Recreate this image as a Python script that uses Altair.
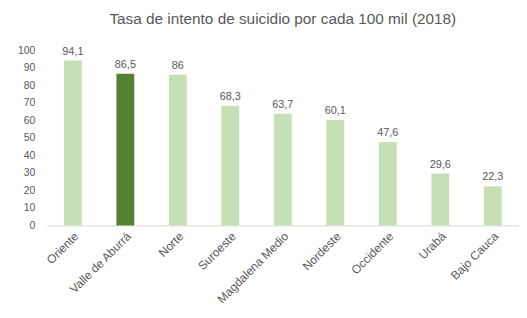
import altair as alt
import pandas as pd

regions = ["Oriente", "Valle de Aburrá", "Norte", "Suroeste", "Magdalena Medio",
           "Nordeste", "Occidente", "Urabá", "Bajo Cauca"]
values = [94.1, 86.5, 86, 68.3, 63.7, 60.1, 47.6, 29.6, 22.3]
labels = ["94,1", "86,5", "86", "68,3", "63,7", "60,1", "47,6", "29,6", "22,3"]
highlight = ["no", "yes", "no", "no", "no", "no", "no", "no", "no"]
y_ticks = [0, 10, 20, 30, 40, 50, 60, 70, 80, 90, 100]

df = pd.DataFrame({"region": regions, "value": values, "label": labels, "hl": highlight})

x = alt.X("region:N", sort=regions, title=None,
          scale=alt.Scale(paddingInner=0.66, paddingOuter=0.33),
          axis=alt.Axis(labelAngle=-45, ticks=False, domainColor="#d9d9d9",
                        labelColor="#595959", labelFont="Liberation Sans",
                        labelFontSize=12, labelPadding=5, labelOverlap=False))
y = alt.Y("value:Q", title=None,
          scale=alt.Scale(domain=[0, 100], nice=False),
          axis=alt.Axis(values=y_ticks, grid=False, domain=False,
                        ticks=False, labelColor="#595959", labelFont="Liberation Sans",
                        labelFontSize=10.5, labelPadding=12, labelOverlap=False,
                        labelBound=False, labelFlush=False))

base = alt.Chart(df).encode(x=x, y=y)

bars = base.mark_bar().encode(
    color=alt.Color("hl:N", scale=alt.Scale(domain=["no", "yes"], range=["#c5e0b4", "#548235"]),
                    legend=None),
)
text = base.mark_text(dy=-9, font="Liberation Sans", fontSize=11, color="#595959").encode(
    text="label:N")

chart = (bars + text).properties(
    width=477, height=177,
    title=alt.TitleParams("Tasa de intento de suicidio por cada 100 mil (2018)",
                          font="Liberation Sans", fontSize=15.5, fontWeight="normal",
                          color="#595959", anchor="middle", offset=18),
    autosize=alt.AutoSizeParams(type="none"),
    padding={"left": 39, "top": 41, "right": 0, "bottom": 92},
).configure_view(stroke=None)

chart.save("out.html", embed_options={"renderer": "svg", "actions": False})
